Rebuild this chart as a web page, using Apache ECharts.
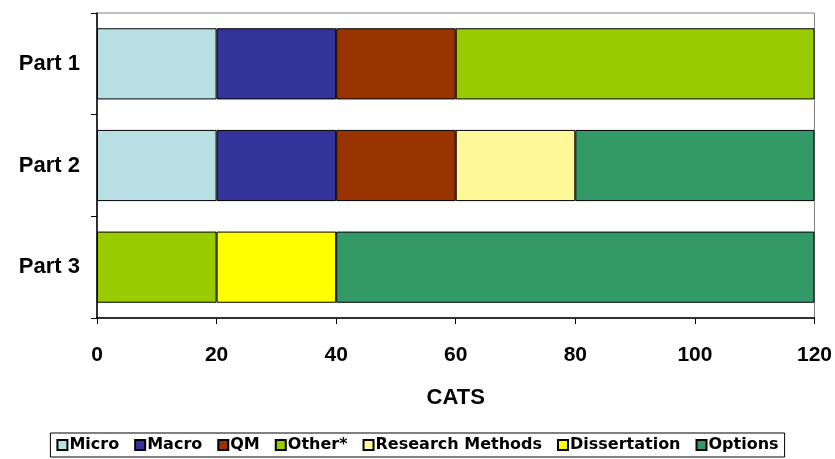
<!DOCTYPE html>
<html>
<head>
<meta charset="utf-8">
<script src="https://cdn.jsdelivr.net/npm/echarts@6/dist/echarts.min.js"></script>
<style>html,body{margin:0;padding:0;background:#fff}#c{width:835px;height:459px}</style>
</head>
<body>
<div id="c"></div>
<script>
var categories = ['Part 1', 'Part 2', 'Part 3'];
var xTicks = [0, 20, 40, 60, 80, 100, 120];
var seriesNames = ['Micro', 'Macro', 'QM', 'Other*', 'Research Methods', 'Dissertation', 'Options'];
var micro = [20, 20, 0];
var macro = [20, 20, 0];
var qm = [20, 20, 0];
var other = [60, 0, 20];
var research = [0, 20, 0];
var dissertation = [0, 0, 20];
var options = [0, 40, 80];
var colors = ['#B8E0E4', '#333399', '#993300', '#99CC00', '#FFF899', '#FFFF00', '#339966'];

var values = [micro, macro, qm, other, research, dissertation, options];
var font = 'Liberation Sans, Arial, sans-serif';
var chart = echarts.init(document.getElementById('c'));
chart.setOption({
  animation: false,
  grid: { left: 97, right: 20, top: 13, bottom: 141, show: true, borderColor: '#808080', borderWidth: 1, backgroundColor: 'transparent' },
  legend: {
    bottom: 2, left: 'center',
    data: seriesNames,
    icon: 'rect', itemWidth: 10, itemHeight: 10, itemGap: 15,
    borderColor: '#000', borderWidth: 1, padding: [4, 6],
    textStyle: { fontFamily: 'DejaVu Sans', fontWeight: 'bold', fontSize: 16, color: '#000', padding: [0, 0, 0, -3] }
  },
  xAxis: {
    type: 'value', min: xTicks[0], max: xTicks[xTicks.length - 1], interval: 20,
    name: 'CATS', nameLocation: 'middle', nameGap: 69,
    nameTextStyle: { fontFamily: font, fontWeight: 'bold', fontSize: 22, color: '#000' },
    axisLine: { show: true, lineStyle: { color: '#000', width: 1.5 } },
    axisTick: { show: true, length: 6, lineStyle: { color: '#000' } },
    axisLabel: { margin: 27, fontFamily: font, fontWeight: 'bold', fontSize: 21, color: '#000' },
    splitLine: { show: false }
  },
  yAxis: {
    type: 'category', data: categories, inverse: true,
    axisLine: { show: true, lineStyle: { color: '#000', width: 1.5 } },
    axisTick: { show: true, length: 6, lineStyle: { color: '#000' } },
    axisLabel: { margin: 17, fontFamily: font, fontWeight: 'bold', fontSize: 22, color: '#000' }
  },
  series: seriesNames.map(function (n, i) {
    return {
      name: n, type: 'bar', stack: 'total', barWidth: '70%',
      data: values[i].map(function (v) { return v === 0 ? null : v; }),
      itemStyle: { color: colors[i], borderColor: '#000', borderWidth: 1 }
    };
  })
});
</script>
</body>
</html>
